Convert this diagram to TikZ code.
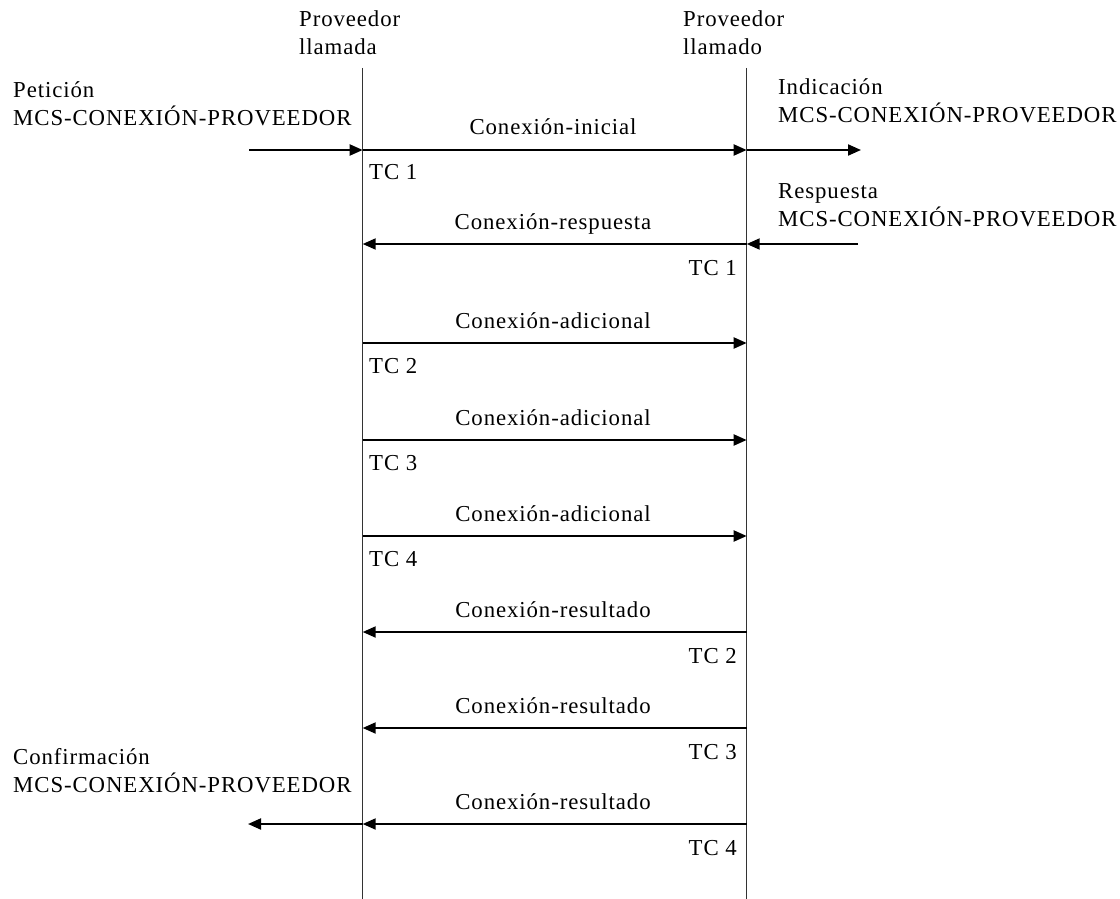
\documentclass[tikz,border=0pt]{standalone}
\usepackage{fontspec}
\setmainfont{Liberation Serif}[LetterSpace=4]
\usetikzlibrary{arrows.meta}
\begin{document}
\begin{tikzpicture}[x=1pt,y=-1pt,
  every node/.style={inner sep=0pt,font=\fontsize{22.8}{28}\selectfont},
  lifeline/.style={draw=black!80,line width=1.2pt},
  msg/.style={draw=black,line width=2pt,-{Triangle[length=13pt,width=11pt]}},
  msglabel/.style={anchor=base},
  tcleft/.style={anchor=base west},
  tcright/.style={anchor=base east},
  twoline/.style={anchor=base west}]
\useasboundingbox (0,0) rectangle (1120,899);

% column headers
\node[twoline] (hcaller) at (299,27) {\begin{tabular}[t]{@{}l@{}}Proveedor\\llamada\end{tabular}};
\node[twoline] (hcalled) at (683,27) {\begin{tabular}[t]{@{}l@{}}Proveedor\\llamado\end{tabular}};

% lifelines
\coordinate (Ltop) at (362.7,68);
\coordinate (Lbot) at (362.7,899);
\coordinate (Rtop) at (746.7,68);
\coordinate (Rbot) at (746.7,899);
\draw[lifeline] (Ltop) -- (Lbot);
\draw[lifeline] (Rtop) -- (Rbot);

% message rows on both lifelines
\foreach \i/\y in {1/150,2/244,3/343,4/440,5/536,6/632,7/728,8/824}{
  \coordinate (L\i) at (362.7,\y);
  \coordinate (R\i) at (746.7,\y);
}
\coordinate (reqin) at (249,150);
\coordinate (indout) at (861,150);
\coordinate (rspin) at (858,244);
\coordinate (cnfout) at (248,824);

% service primitives at the edges
\node[twoline] (req) at (13,98) {\begin{tabular}[t]{@{}l@{}}Petición\\MCS-CONEXIÓN-PROVEEDOR\end{tabular}};
\node[twoline] (ind) at (778,95) {\begin{tabular}[t]{@{}l@{}}Indicación\\MCS-CONEXIÓN-PROVEEDOR\end{tabular}};
\node[twoline] (rsp) at (778,198) {\begin{tabular}[t]{@{}l@{}}Respuesta\\MCS-CONEXIÓN-PROVEEDOR\end{tabular}};
\node[twoline] (cnf) at (13,764) {\begin{tabular}[t]{@{}l@{}}Confirmación\\MCS-CONEXIÓN-PROVEEDOR\end{tabular}};

\draw[msg] (reqin) -- (L1);
\draw[msg] (R1) -- (indout);
\draw[msg] (rspin) -- (R2);
\draw[msg] (L8) -- (cnfout);

% PDUs between the providers
\draw[msg] (L1) -- (R1);
\draw[msg] (R2) -- (L2);
\draw[msg] (L3) -- (R3);
\draw[msg] (L4) -- (R4);
\draw[msg] (L5) -- (R5);
\draw[msg] (R6) -- (L6);
\draw[msg] (R7) -- (L7);
\draw[msg] (R8) -- (L8);

\node[msglabel] (m1) at (553,135) {Conexión-inicial};
\node[msglabel] (m2) at (553,229) {Conexión-respuesta};
\node[msglabel] (m3) at (553,328) {Conexión-adicional};
\node[msglabel] (m4) at (553,425) {Conexión-adicional};
\node[msglabel] (m5) at (553,521) {Conexión-adicional};
\node[msglabel] (m6) at (553,617) {Conexión-resultado};
\node[msglabel] (m7) at (553,713) {Conexión-resultado};
\node[msglabel] (m8) at (553,809) {Conexión-resultado};

% channel tags
\node[tcleft] (tcl1) at (369,179) {TC 1};
\node[tcleft] (tcl2) at (369,373) {TC 2};
\node[tcleft] (tcl3) at (369,470) {TC 3};
\node[tcleft] (tcl4) at (369,566) {TC 4};
\node[tcright] (tcr1) at (737,275) {TC 1};
\node[tcright] (tcr2) at (737,663) {TC 2};
\node[tcright] (tcr3) at (737,759) {TC 3};
\node[tcright] (tcr4) at (737,855) {TC 4};
\end{tikzpicture}
\end{document}
